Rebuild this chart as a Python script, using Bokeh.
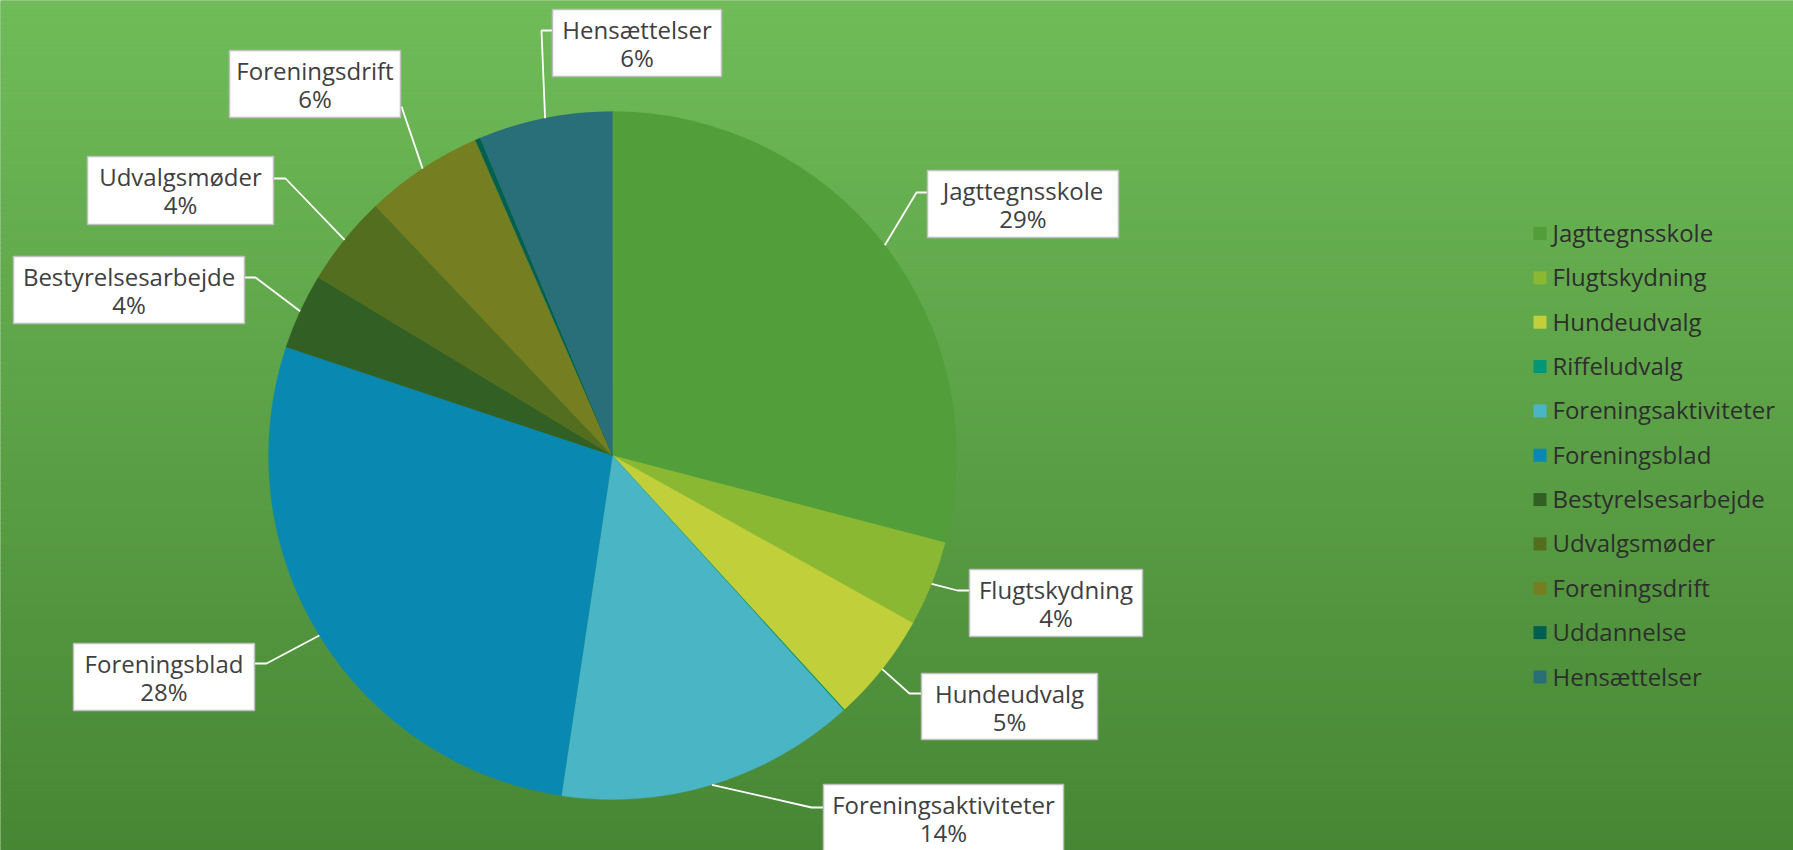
import numpy as np
from bokeh.plotting import figure
from bokeh.models import Range1d, ColumnDataSource
from bokeh.core.properties import value
from bokeh.embed import file_html
from bokeh.resources import INLINE

# ---------------- data ----------------
categories = ["Jagttegnsskole", "Flugtskydning", "Hundeudvalg", "Riffeludvalg",
              "Foreningsaktiviteter", "Foreningsblad", "Bestyrelsesarbejde",
              "Udvalgsmøder", "Foreningsdrift", "Uddannelse", "Hensættelser"]
shares = [29.08, 4.02, 5.14, 0.05, 14.10, 27.74, 3.56, 4.25, 5.56, 0.25, 6.28]
colors = ["#529E3A", "#8AB833", "#C0CF3A", "#029676", "#4AB5C4", "#0989B1",
          "#325F23", "#546E20", "#757F22", "#006050", "#286F79"]
show_label = [True, True, True, False, True, True, True, True, True, False, True]

# ---------------- layout (pixel coordinates, y down) ----------------
W, H = 1793, 850
CX, CY, R = 612, 455, 344
FONT = "Open Sans"
FS = "24px"
TEXT_COLOR = "#404040"
# label box (left, top, right, bottom) and leader path points after the pie edge
label_layout = {
    "Jagttegnsskole": ((927, 170, 1118, 237), [(916, 192), (927, 192)]),
    "Flugtskydning": ((969, 569, 1142, 636), [(957, 590), (969, 590)]),
    "Hundeudvalg": ((921, 673, 1097, 739), [(909, 693), (921, 693)]),
    "Foreningsaktiviteter": ((823, 784, 1063, 851), [(811, 807), (823, 807)]),
    "Foreningsblad": ((73, 643, 254, 710), [(266, 663), (254, 663)]),
    "Bestyrelsesarbejde": ((13, 256, 244, 323), [(255, 277), (244, 277)]),
    "Udvalgsmøder": ((87, 156, 273, 224), [(285, 178), (273, 178)]),
    "Foreningsdrift": ((229, 50, 400, 117), [(401, 106)]),
    "Hensættelser": ((552, 9, 721, 76), [(541, 30), (552, 30)]),
}
LINE1, LINE2 = 19.8, 47.8
LEG_X, LEG_Y0, LEG_DY, LEG_SQ = 1533, 233, 44.35, 13


def Y(py):
    return H - py


p = figure(width=W, height=H, x_range=Range1d(0, W), y_range=Range1d(0, H),
           output_backend="svg", toolbar_location=None, min_border=0,
           x_axis_type=None, y_axis_type=None)
p.grid.visible = False
p.outline_line_color = None
p.background_fill_color = "#5DA046"
p.border_fill_color = "#5DA046"

# background gradient
n = 170
edges = np.linspace(0, H, n + 1)
c_top = np.array([112, 188, 89])
c_bot = np.array([71, 134, 52])
cols = []
for i in range(n):
    t = (edges[i] + edges[i + 1]) / 2 / H
    c = (c_top * (1 - t) + c_bot * t).round().astype(int)
    cols.append("#%02x%02x%02x" % tuple(c))
p.quad(left=0, right=W, top=[Y(e) for e in edges[:-1]],
       bottom=[Y(e) for e in edges[1:]], fill_color=cols, line_color=cols,
       line_width=0.5)

# pie
vals = np.array(shares, dtype=float)
frac = vals / vals.sum()
cum = np.concatenate([[0], np.cumsum(frac)]) * 2 * np.pi
start = np.pi / 2 - cum[:-1]
end = np.pi / 2 - cum[1:]
src = ColumnDataSource(dict(cat=categories, start=start, end=end, color=colors))
p.wedge(x=CX, y=Y(CY), radius=R, start_angle="start", end_angle="end",
        direction="clock", fill_color="color", line_color="color", line_width=0.3,
        source=src)

# labels
pct = ["%d%%" % int(round(f * 100)) for f in frac]
lx, ly = [], []
bl, br, bt, bb = [], [], [], []
tx, t1, t2, names, pcts = [], [], [], [], []
for i, cat in enumerate(categories):
    if not show_label[i]:
        continue
    (l, t, r, b), path = label_layout[cat]
    mid = (cum[i] + cum[i + 1]) / 2
    ex = CX + R * np.sin(mid)
    ey = CY - R * np.cos(mid)
    pts = [(ex, ey)] + path
    lx.append([q[0] for q in pts])
    ly.append([Y(q[1]) for q in pts])
    bl.append(l); br.append(r); bt.append(Y(t)); bb.append(Y(b))
    tx.append((l + r) / 2)
    t1.append(Y(t + LINE1))
    t2.append(Y(t + LINE2))
    names.append(cat)
    pcts.append(pct[i])

p.multi_line(xs=lx, ys=ly, line_color="white", line_width=1.8)
p.quad(left=bl, right=br, top=bt, bottom=bb, fill_color="white",
       line_color="#BFBFBF", line_width=1.5)
p.text(x=tx, y=t1, text=names, text_align="center", text_baseline="middle",
       text_font=value(FONT), text_font_size=FS, text_color=TEXT_COLOR)
p.text(x=tx, y=t2, text=pcts, text_align="center", text_baseline="middle",
       text_font=value(FONT), text_font_size=FS, text_color=TEXT_COLOR)

# legend
ly_c = [Y(LEG_Y0 + i * LEG_DY) for i in range(len(categories))]
p.rect(x=LEG_X + LEG_SQ / 2, y=ly_c, width=LEG_SQ, height=LEG_SQ,
       fill_color=colors, line_color=None)
p.text(x=LEG_X + 19, y=[v + 1 for v in ly_c], text=categories, text_align="left",
       text_baseline="middle", text_font=value(FONT), text_font_size=FS,
       text_color="#2E2E2E")

open("out.html", "w").write(file_html(p, INLINE))
